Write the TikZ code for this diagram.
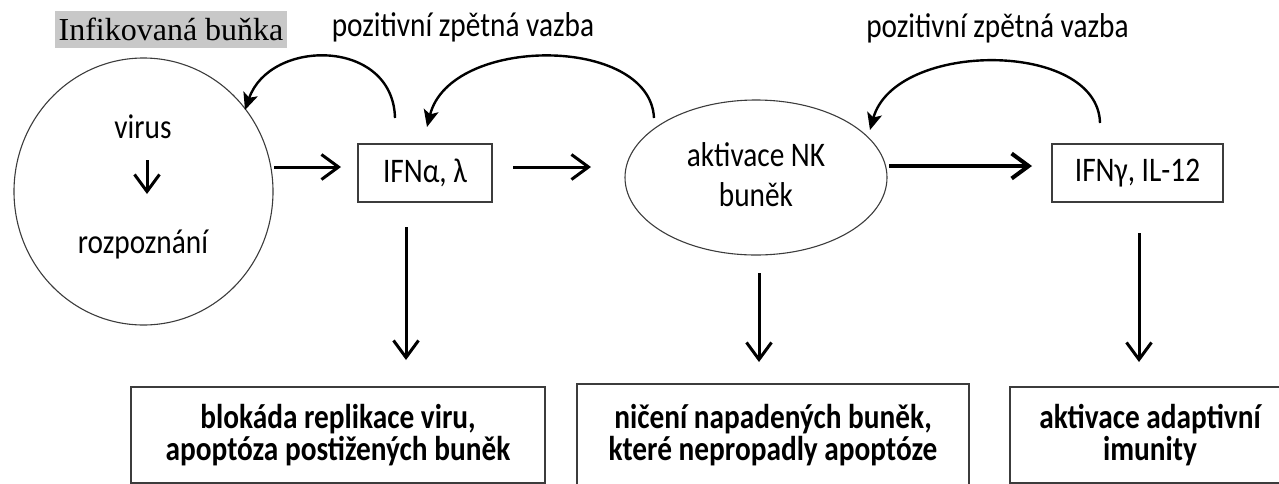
\documentclass[tikz,border=0pt]{standalone}
\usepackage{fontspec}
\setmainfont{Carlito}[FakeStretch=0.85]
\newfontfamily\seriffont{Liberation Serif}
\usetikzlibrary{arrows.meta,shapes.geometric}
\definecolor{hl}{RGB}{200,200,200}
\definecolor{edge}{RGB}{60,60,60}
\begin{document}
\begin{tikzpicture}[x=1pt,y=-1pt,
  txt/.style={font=\fontsize{34.5}{40}\selectfont, inner sep=0pt},
  shapeline/.style={draw=edge, line width=1.1pt, inner sep=0pt},
  flow/.style={line width=3pt, -{Straight Barb[length=17pt,width=25pt]}},
  fbarrow/.style={line width=2.4pt, -{Stealth[length=17pt,width=15pt,inset=4pt]}},
  outbox/.style={draw=edge, line width=1.4pt, inner sep=0pt, align=center,
    font=\fontsize{34.5}{32}\selectfont\bfseries}]
\useasboundingbox (0,0) rectangle (1279,483);

% title
\node[fill=hl, minimum width=232pt, minimum height=37pt, inner sep=0pt,
      font=\seriffont\fontsize{32}{36}\selectfont] (inf) at (171,29.5) {Infikovaná buňka};
\node[txt, anchor=base] (fbl1) at (463,36) {pozitivní zpětná vazba};
\node[txt, anchor=base] (fbl2) at (997.5,37) {pozitivní zpětná vazba};

% infected cell
\node[ellipse, shapeline, minimum width=259pt, minimum height=267pt] (circ) at (143.5,191.5) {};
\node[txt, anchor=base] (vir) at (143,138) {virus};
\node[txt, anchor=base] (roz) at (143,253) {rozpoznání};
\coordinate (va) at (147,160);
\coordinate (vb) at (147,194);
\draw[flow] (va) -- (vb);

% boxes and ellipse
\node[rectangle, shapeline, minimum width=134pt, minimum height=58pt, txt] (ifn) at (425,173) {IFNα, λ};
\node[ellipse, shapeline, minimum width=262pt, minimum height=155pt] (nk) at (756,177.5) {};
\node[txt, align=center] (nkt) at (756,175) {aktivace NK\\buněk};
\node[rectangle, shapeline, minimum width=171pt, minimum height=58pt, txt] (ifg) at (1137.5,173) {IFNγ, IL-12};

% horizontal arrows
\coordinate (h1s) at (274,167); \coordinate (h1e) at (341,167);
\coordinate (h2s) at (513,167); \coordinate (h2e) at (591,167);
\coordinate (h3s) at (889,166); \coordinate (h3e) at (1032,166);
\draw[flow] (h1s) -- (h1e);
\draw[flow] (h2s) -- (h2e);
\draw[flow, line width=4pt] (h3s) -- (h3e);

% feedback arcs
\coordinate (f1s) at (395,118); \coordinate (f1e) at (245,110);
\coordinate (f2s) at (654,118); \coordinate (f2e) at (427,127);
\coordinate (f3s) at (1100,123); \coordinate (f3e) at (870,130);
\draw[fbarrow] (f1s) .. controls (393,38) and (270,38) .. (f1e);
\draw[fbarrow] (f2s) .. controls (650,35) and (450,35) .. (f2e);
\draw[fbarrow] (f3s) .. controls (1098,40) and (895,40) .. (f3e);

% outcome boxes
\node[outbox, minimum width=414pt, minimum height=96pt] (o1) at (338,435) {blokáda replikace viru,\\apoptóza postižených buněk};
\node[outbox, minimum width=392pt, minimum height=102pt] (o2) at (773,435) {ničení napadených buněk,\\které nepropadly apoptóze};
\node[outbox, minimum width=280pt, minimum height=96pt] (o3) at (1150,435) {aktivace adaptivní\\imunity};

% down arrows
\coordinate (d1s) at (406,227); \coordinate (d1e) at (406,360);
\coordinate (d2s) at (759,273); \coordinate (d2e) at (759,362);
\coordinate (d3s) at (1139,233); \coordinate (d3e) at (1139,362);
\draw[flow] (d1s) -- (d1e);
\draw[flow] (d2s) -- (d2e);
\draw[flow] (d3s) -- (d3e);
\end{tikzpicture}
\end{document}
